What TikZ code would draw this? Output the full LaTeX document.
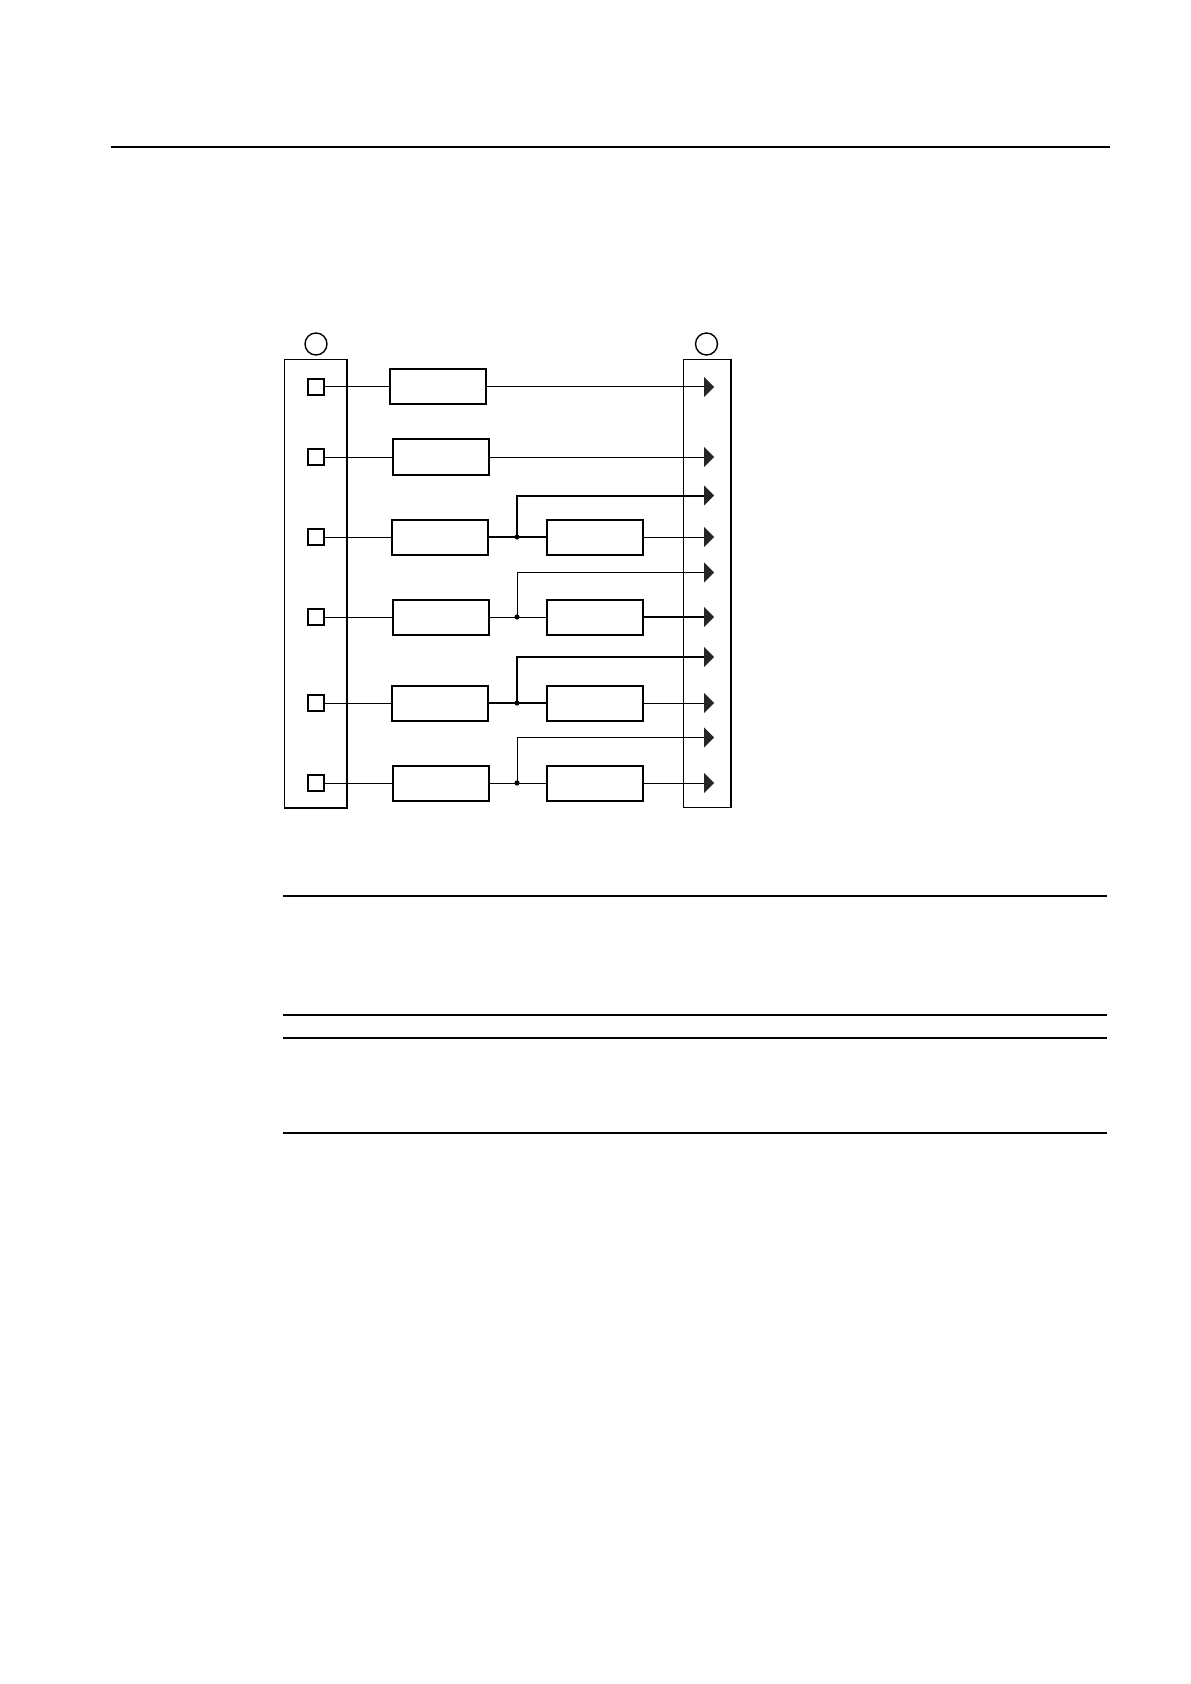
\documentclass[tikz,border=0pt]{standalone}
\usetikzlibrary{arrows.meta}

\tikzset{
  rule/.style={line width=0.7pt},
  bar/.style={draw,line width=0.8pt,inner sep=0pt},
  marker/.style={draw,circle,line width=0.7pt,minimum size=11pt,inner sep=0pt},
  port/.style={draw,line width=0.8pt,minimum size=8.25pt,inner sep=0pt},
  block/.style={draw,line width=1pt,minimum width=48pt,minimum height=17.5pt,inner sep=0pt},
  light/.style={line width=0.5pt},
  heavy/.style={line width=1pt},
  outarrow/.style={-{Triangle[length=5pt,width=10pt,color=black!85]}}
}

\begin{document}
\begin{tikzpicture}[x=0.5pt,y=-0.5pt]
  \useasboundingbox (0,0) rectangle (1190,1684);
  % page rules
  \draw[rule] (111,147) -- (1110,147);
  \draw[rule] (283,896) -- (1107,896);
  \draw[rule] (283,1015) -- (1107,1015);
  \draw[rule] (283,1038) -- (1107,1038);
  \draw[rule] (283,1133) -- (1107,1133);

  % input and output bars
  \node[bar,minimum width=31.25pt,minimum height=224.25pt] (inbar) at (315.75,583.75) {};
  \node[bar,line width=0.5pt,minimum width=23.25pt,minimum height=223.75pt] (outbar) at (706.75,583.25) {};
  \draw[heavy] (outbar.north east) -- (outbar.south east);
  \node[marker] (inmark) at (316,344) {};
  \node[marker] (outmark) at (706.5,344) {};

  % ports, first blocks and arrow ends
  \foreach \i/\y/\ax in {1/387/438,2/457/440.5,3/537/440,4/617/440.5,5/703/439.5,6/783/440.5} {
    \node[port] (p\i) at (316,\y) {};
    \node[block] (a\i) at (\ax,\y) {};
    \coordinate (t\i) at (714,\y);
    \draw[light] (p\i) -- (a\i);
  }
  \draw[light,outarrow] (a1) -- (t1);
  \draw[light,outarrow] (a2) -- (t2);

  % split rows
  \foreach \i/\y/\u/\fw/\bw in {3/537/495.5/heavy/light,4/617/572.5/light/heavy,
                               5/703/657/heavy/light,6/783/737.5/light/light} {
    \node[block] (b\i) at (595,\y) {};
    \coordinate (j\i) at (517,\y);
    \coordinate (u\i) at (714,\u);
    \draw[\fw] (a\i) -- (b\i);
    \draw[\fw,outarrow] (j\i) |- (u\i);
    \draw[\bw,outarrow] (b\i) -- (t\i);
    \fill (j\i) circle (1.3pt);
  }
\end{tikzpicture}
\end{document}
